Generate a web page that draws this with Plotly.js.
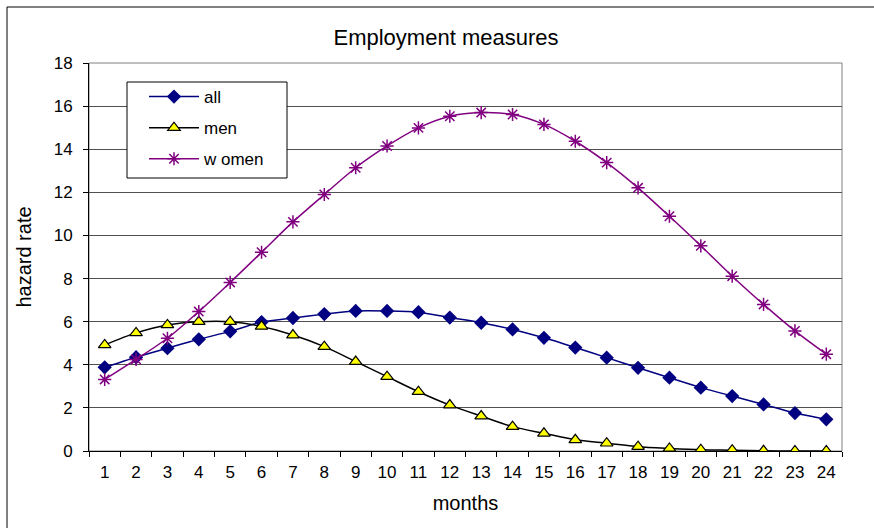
<!DOCTYPE html>
<html>
<head>
<meta charset="utf-8">
<script src="https://cdn.plot.ly/plotly-3.0.1.min.js"></script>
<style>
  html, body { margin: 0; padding: 0; background: #ffffff; }
  #chart { width: 874px; height: 528px; }
</style>
</head>
<body>
<div id="chart"></div>
<script>
var months = ["1","2","3","4","5","6","7","8","9","10","11","12","13","14","15","16","17","18","19","20","21","22","23","24"];
var allValues = [3.88, 4.35, 4.77, 5.18, 5.55, 5.98, 6.17, 6.35, 6.5, 6.5, 6.44, 6.19, 5.95, 5.64, 5.25, 4.8, 4.33, 3.86, 3.4, 2.94, 2.55, 2.16, 1.76, 1.47];
var menValues = [4.92, 5.48, 5.85, 6.0, 6.0, 5.78, 5.38, 4.84, 4.15, 3.45, 2.75, 2.13, 1.62, 1.13, 0.82, 0.52, 0.36, 0.2, 0.12, 0.06, 0.04, 0.01, 0.0, 0.0];
var womenValues = [3.32, 4.25, 5.23, 6.47, 7.82, 9.22, 10.63, 11.9, 13.14, 14.15, 14.99, 15.53, 15.7, 15.61, 15.15, 14.37, 13.38, 12.21, 10.89, 9.52, 8.11, 6.8, 5.57, 4.49];
var seriesNames = ["all", "men", "w omen"];
var yTicks = [0, 2, 4, 6, 8, 10, 12, 14, 16, 18];

var FONT = "Liberation Sans, Arial, sans-serif";

var traces = [
  {
    x: months, y: allValues, name: seriesNames[0], type: "scatter", mode: "lines+markers",
    legendgroup: "a",
    line: {color: "#000080", width: 1.5, shape: "spline", smoothing: 0.8},
    marker: {symbol: "diamond", size: 11, color: "#000080", line: {color: "#000080", width: 0}}
  },
  {
    x: months, y: menValues, name: seriesNames[1], type: "scatter", mode: "lines+markers",
    legendgroup: "b",
    line: {color: "#000000", width: 1.5, shape: "spline", smoothing: 0.8},
    marker: {symbol: "triangle-up", size: 11, color: "#ffff00", line: {color: "#000000", width: 1.2}}
  },
  {
    x: months, y: womenValues, name: seriesNames[2], type: "scatter", mode: "lines+markers",
    legendgroup: "c",
    line: {color: "#800080", width: 1.5, shape: "spline", smoothing: 0.8},
    marker: {symbol: "asterisk-open", size: 11, color: "#800080", line: {color: "#800080", width: 1.5}}
  }
];

var L = 89, R = 32, T = 63, B = 77;
var W = 874 - L - R, H = 528 - T - B;
function px(x) { return (x - L) / W; }
function py(y) { return (528 - B - y) / H; }

var layout = {
  width: 874, height: 528,
  margin: {l: L, r: R, t: T, b: B, pad: 0},
  paper_bgcolor: "#ffffff",
  plot_bgcolor: "#ffffff",
  font: {family: FONT, color: "#000000", size: 17},
  title: {
    text: "Employment measures",
    font: {family: FONT, size: 22, color: "#000000"},
    x: 446 / 874, xanchor: "center", xref: "container",
    y: 1 - 37 / 528, yanchor: "middle", yref: "container"
  },
  showlegend: true,
  legend: {
    x: px(144), y: py(79), xanchor: "left", yanchor: "top",
    bgcolor: "rgba(0,0,0,0)", borderwidth: 0,
    font: {family: FONT, size: 17, color: "#000000"},
    traceorder: "grouped", tracegroupgap: 6, itemwidth: 50
  },
  xaxis: {
    type: "category",
    range: [-0.5, 23.5],
    autorange: false,
    tickson: "boundaries",
    ticks: "outside", ticklen: 5, tickcolor: "#000000", tickwidth: 1,
    showline: true, linecolor: "#000000", linewidth: 1,
    showgrid: false, zeroline: false,
    tickfont: {family: FONT, size: 17, color: "#000000"},
    ticklabelstandoff: 6,
    title: {text: "months", font: {family: FONT, size: 20, color: "#000000"}, standoff: 14},
    fixedrange: true
  },
  yaxis: {
    range: [0, 18],
    autorange: false,
    tickvals: yTicks, ticktext: yTicks.map(String),
    ticks: "outside", ticklen: 5, tickcolor: "#000000", tickwidth: 1,
    showline: true, linecolor: "#000000", linewidth: 1,
    showgrid: true, gridcolor: "#505050", gridwidth: 1,
    zeroline: false,
    tickfont: {family: FONT, size: 17, color: "#000000"},
    ticklabelstandoff: 7,
    title: {text: "hazard rate", font: {family: FONT, size: 20, color: "#000000"}, standoff: 16},
    fixedrange: true
  },
  shapes: [
    {type: "rect", xref: "paper", yref: "paper", x0: 0, x1: 1, y0: 0, y1: 1,
     line: {color: "#808080", width: 1}, fillcolor: "rgba(0,0,0,0)", layer: "below"},
    {type: "rect", xref: "paper", yref: "paper", x0: px(127), x1: px(287), y0: py(178), y1: py(82),
     line: {color: "#000000", width: 1}, fillcolor: "#ffffff", layer: "above"},
    {type: "rect", xref: "paper", yref: "paper", x0: px(7), x1: px(1000), y0: py(600), y1: py(7),
     line: {color: "#000000", width: 1}, fillcolor: "rgba(0,0,0,0)", layer: "below"}
  ]
};

Plotly.newPlot("chart", traces, layout, {displayModeBar: false, staticPlot: true});
</script>
</body>
</html>
